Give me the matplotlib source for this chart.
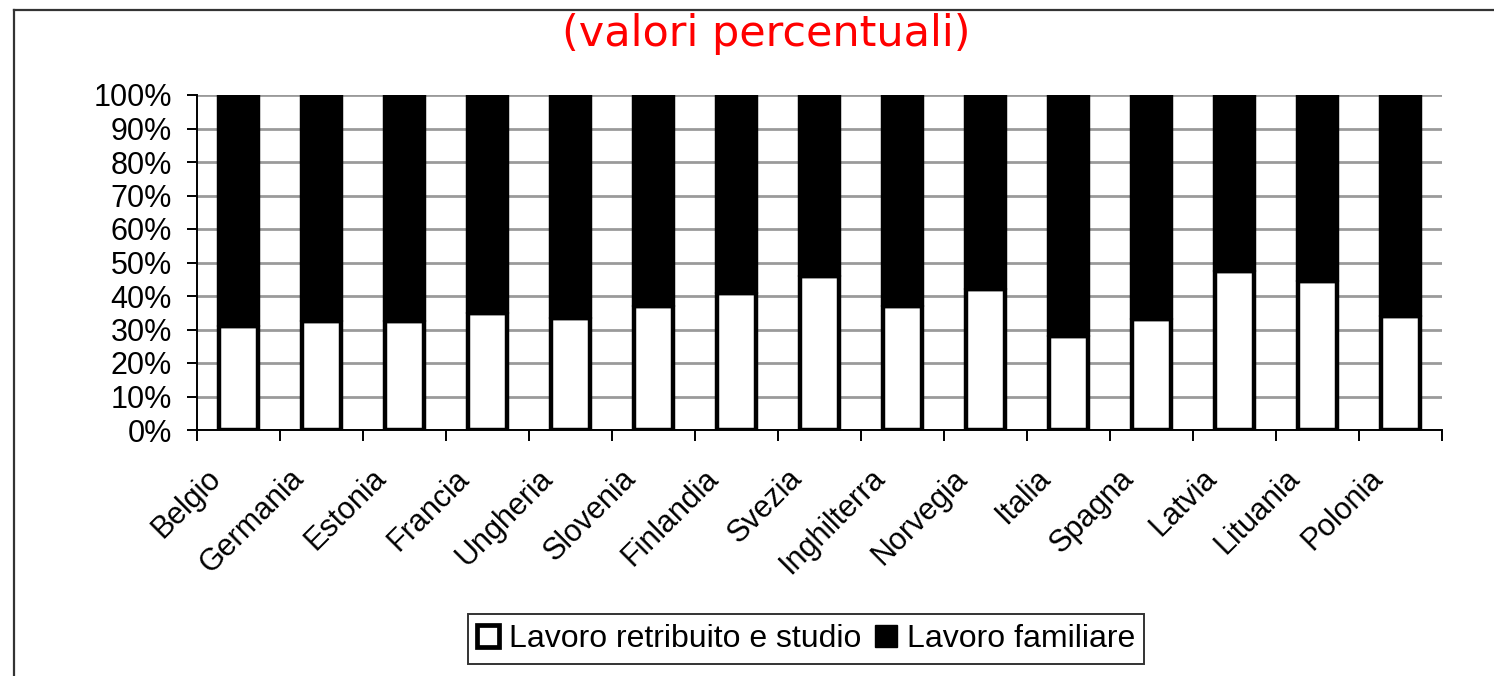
import numpy as np
import matplotlib
matplotlib.use("Agg")
import matplotlib.pyplot as plt
import matplotlib.transforms as mtransforms
from matplotlib.lines import Line2D
from matplotlib.patches import Patch

# data (percent)
paesi = ['Belgio', 'Germania', 'Estonia', 'Francia', 'Ungheria', 'Slovenia',
         'Finlandia', 'Svezia', 'Inghilterra', 'Norvegia', 'Italia', 'Spagna',
         'Latvia', 'Lituania', 'Polonia']
retribuito = [31, 32.5, 32.5, 35, 33.5, 37, 41, 46, 37, 42, 28, 33, 47.5, 44.5, 34]
familiare = [100 - v for v in retribuito]
y_ticks = [0, 10, 20, 30, 40, 50, 60, 70, 80, 90, 100]

plt.rcParams['font.family'] = ['Liberation Sans', 'DejaVu Sans']
FS = 22

fig = plt.figure(figsize=(14.94, 6.76), dpi=100)
ax = fig.add_axes([197/1494, 1 - 430/676, (1442 - 197)/1494, (430 - 95)/676])

x = np.arange(len(paesi))
w = 0.48
ax.bar(x, retribuito, w, color='white', edgecolor='black', linewidth=3.2,
       joinstyle='round', label='Lavoro retribuito e studio', zorder=3)
ax.bar(x, familiare, w, bottom=retribuito, color='black', edgecolor='black',
       linewidth=3.2, joinstyle='round', label='Lavoro familiare', zorder=3)

ax.set_xlim(-0.5, len(paesi) - 0.5)
ax.set_ylim(0, 100)
ax.set_yticks(y_ticks)
ax.set_yticklabels(['%d%%' % v for v in y_ticks], fontsize=FS)
ax.yaxis.grid(True, color='#9a9a9a', linewidth=2, zorder=0)
for s in ['top', 'right']:
    ax.spines[s].set_visible(False)
for s in ['left', 'bottom']:
    ax.spines[s].set_linewidth(1.4)
ax.tick_params(axis='y', length=7, width=1.4, pad=11)

# major ticks at category boundaries, labels on minor ticks at centers
ax.set_xticks(np.arange(len(paesi) + 1) - 0.5)
ax.set_xticklabels([])
ax.tick_params(axis='x', which='major', length=8, width=1.4)
ax.set_xticks(x, minor=True)
ax.set_xticklabels(paesi, minor=True, fontsize=FS)
ax.tick_params(axis='x', which='minor', length=0, pad=24)
off = mtransforms.ScaledTranslation(-33/100, 0, fig.dpi_scale_trans)
for lab in ax.get_xticklabels(minor=True):
    lab.set_rotation(45)
    lab.set_ha('right')
    lab.set_va('top')
    lab.set_rotation_mode('anchor')
    lab.set_transform(lab.get_transform() + off)

fig.text(766/1494, 1 - 34/676, '(valori percentuali)', color='red',
         fontsize=31, ha='center', va='center', family='DejaVu Sans')

handles = [Patch(facecolor='white', edgecolor='black', linewidth=3.4),
           Patch(facecolor='black', edgecolor='black', linewidth=1)]
leg = fig.legend(handles, ['Lavoro retribuito e studio', 'Lavoro familiare'],
                 loc='center', bbox_to_anchor=(806/1494, 1 - 639/676), ncol=2,
                 fontsize=23, frameon=True, fancybox=False, edgecolor='black',
                 handlelength=0.68, handleheight=0.68, handletextpad=0.3,
                 columnspacing=0.45, borderpad=0.3, borderaxespad=0)
leg.get_frame().set_linewidth(1.4)

# outer frame of the picture (top and left edges visible)
fig.add_artist(Line2D([14/1494, 14/1494], [0, 1 - 10/676], color='#333333', linewidth=1.6))
fig.add_artist(Line2D([14/1494, 1], [1 - 10/676, 1 - 10/676], color='#333333', linewidth=1.6))

fig.savefig('out.png', dpi=100)
